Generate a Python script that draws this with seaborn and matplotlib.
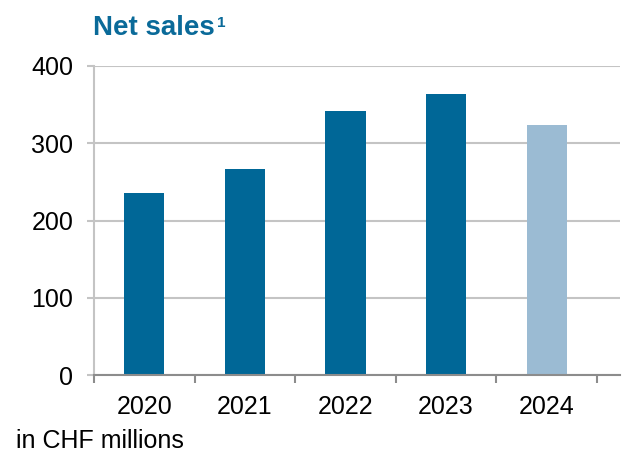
import matplotlib
matplotlib.use("Agg")
import matplotlib.pyplot as plt
import seaborn as sns
import pandas as pd

years = ["2020", "2021", "2022", "2023", "2024"]
net_sales = [236, 266, 342, 363, 323]
bar_colors = ["#006797", "#006797", "#006797", "#006797", "#9BBBD3"]
y_ticks = [0, 100, 200, 300, 400]

sns.set_theme(style="white")
plt.rcParams['font.family'] = ['Liberation Sans', 'DejaVu Sans']

W, H = 625, 453
fig = plt.figure(figsize=(W / 100, H / 100), dpi=100)
left_px, right_px, top_px, bot_px = 94, 620, 65.7, 375.3
ax = fig.add_axes([left_px / W, 1 - bot_px / H, (right_px - left_px) / W, (bot_px - top_px) / H])

df = pd.DataFrame({"year": years, "sales": net_sales})
sns.barplot(data=df, x="year", y="sales", hue="year", palette=bar_colors,
            legend=False, width=0.4, ax=ax, saturation=1, edgecolor="none")

cat_px = 100.6
ax.set_xlim(-0.5, (right_px - left_px) / cat_px - 0.5)
ax.set_ylim(0, 400)
ax.set_yticks(y_ticks)
ax.set_yticklabels([str(v) for v in y_ticks])
ax.set_xlabel("")
ax.set_ylabel("")

ax.grid(axis="y", color="#c4c4c4", linewidth=1.5, zorder=0)
ax.set_axisbelow(True)
for s in ["top", "right"]:
    ax.spines[s].set_visible(False)
ax.spines["left"].set_color("#c4c4c4")
ax.spines["left"].set_linewidth(1.5)
ax.spines["bottom"].set_color("#8c8c8c")
ax.spines["bottom"].set_linewidth(1.5)

ax.tick_params(axis="y", which="major", direction="out", length=5, width=1.5,
               color="#c4c4c4", labelsize=18, pad=10, left=True, labelcolor="black")
ax.set_xticks([i - 0.5 for i in range(len(years) + 1)], minor=True)
ax.tick_params(axis="x", which="minor", direction="out", length=6, width=1.5,
               color="#8c8c8c", bottom=True)
ax.tick_params(axis="x", which="major", length=0, labelsize=18, pad=14, labelcolor="black")

title_color = "#0A6A99"
t = fig.text(93 / W, 1 - 35 / H, "Net sales", fontsize=20, fontweight="bold",
             color=title_color, ha="left", va="baseline")
fig.canvas.draw()
bb = t.get_window_extent()
fig.text((bb.x1 + 2) / W, 1 - 27 / H, "1", fontsize=11, fontweight="bold",
         color=title_color, ha="left", va="baseline")

fig.text(16 / W, 1 - 448 / H, "in CHF millions", fontsize=18, color="black",
         ha="left", va="baseline")

fig.savefig("out.png", dpi=100)
